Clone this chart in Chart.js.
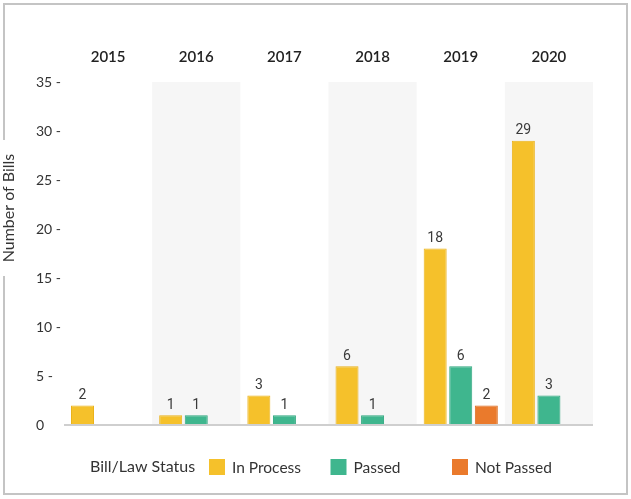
<!DOCTYPE html>
<html>
<head>
<meta charset="utf-8">
<script src="https://cdn.jsdelivr.net/npm/chart.js@4.4.1/dist/chart.umd.min.js"></script>
<style>
    html, body { margin: 0; padding: 0; background: #fff; }
    #wrap { width: 631px; height: 499px; position: relative; }
</style>
</head>
<body>
<div id="wrap"><canvas id="billsChart" width="631" height="499"></canvas></div>
<script>
const years = ['2015', '2016', '2017', '2018', '2019', '2020'];
const inProcess = [2, 1, 3, 6, 18, 29];
const passed = [null, 1, 1, 1, 6, 3];
const notPassed = [null, null, null, null, 2, null];
const yTicks = [0, 5, 10, 15, 20, 25, 30, 35];
const shadedYears = ['2016', '2018', '2020'];

const FONT = 'Lato, "Open Sans", sans-serif';

// light bands behind every other year
const bandPlugin = {
    id: 'bands',
    beforeDatasetsDraw(chart) {
        const ctx = chart.ctx;
        const x = chart.scales.x;
        const area = chart.chartArea;
        const w = x.getPixelForTick(1) - x.getPixelForTick(0);
        ctx.save();
        ctx.fillStyle = '#f6f6f6';
        shadedYears.forEach(yr => {
            const c = x.getPixelForValue(years.indexOf(yr));
            ctx.fillRect(c - w / 2, area.top, w, area.bottom - area.top - 1);
        });
        ctx.restore();
    }
};

// numbers on top of the bars
const valueLabels = {
    id: 'valueLabels',
    afterDatasetsDraw(chart) {
        const ctx = chart.ctx;
        ctx.save();
        ctx.font = '14px Roboto, sans-serif';
        ctx.fillStyle = '#3a3a3a';
        ctx.textAlign = 'center';
        ctx.textBaseline = 'bottom';
        chart.data.datasets.forEach((ds, i) => {
            chart.getDatasetMeta(i).data.forEach((bar, j) => {
                if (ds.data[j] == null) return;
                ctx.fillText(ds.data[j], bar.x, bar.y - 3);
            });
        });
        ctx.restore();
    }
};

// frame, y title and the legend row at the bottom
const frameAndLegend = {
    id: 'frameAndLegend',
    afterDraw(chart) {
        const ctx = chart.ctx;
        const W = chart.width, H = chart.height;
        ctx.save();
        ctx.strokeStyle = '#c4c4c4';
        ctx.lineWidth = 2;
        ctx.beginPath();
        ctx.moveTo(4, 140); ctx.lineTo(4, 4); ctx.lineTo(W - 4, 4);
        ctx.lineTo(W - 4, H - 5); ctx.lineTo(4, H - 5); ctx.lineTo(4, 276);
        ctx.stroke();

        // y axis title
        ctx.translate(9, 208);
        ctx.rotate(-Math.PI / 2);
        ctx.font = '16px ' + FONT;
        ctx.fillStyle = '#333';
        ctx.textAlign = 'center';
        ctx.textBaseline = 'middle';
        ctx.fillText('Number of Bills', 0, 0);
        ctx.setTransform(1, 0, 0, 1, 0, 0);

        // legend
        const y = 467;
        ctx.font = '16px ' + FONT;
        ctx.textAlign = 'left';
        ctx.textBaseline = 'middle';
        ctx.fillStyle = '#333';
        ctx.fillText('Bill/Law Status', 90, y);
        ctx.font = '15.5px ' + FONT;
        let x = 209;
        chart.data.datasets.forEach(ds => {
            ctx.fillStyle = ds.backgroundColor;
            ctx.fillRect(x, y - 8, 16, 16);
            ctx.fillStyle = '#333';
            ctx.fillText(ds.label, x + 23, y + 1);
            x += 121.5;
        });
        ctx.restore();
    }
};

const ctx = document.getElementById('billsChart').getContext('2d');
new Chart(ctx, {
    type: 'bar',
    data: {
        labels: years,
        datasets: [{
            label: 'In Process',
            data: inProcess,
            backgroundColor: '#f5c12b',
            borderColor: '#eab21a',
            borderWidth: 1
        }, {
            label: 'Passed',
            data: passed,
            backgroundColor: '#3fb68e',
            borderColor: '#2fa67e',
            borderWidth: 1
        }, {
            label: 'Not Passed',
            data: notPassed,
            backgroundColor: '#ea7a2c',
            borderColor: '#dc6a1c',
            borderWidth: 1
        }]
    },
    options: {
        responsive: false,
        animation: false,
        layout: { padding: { left: 36, right: 38, top: 32, bottom: 74 } },
        datasets: { bar: { barPercentage: 0.9, categoryPercentage: 0.87 } },
        scales: {
            x: {
                position: 'top',
                grid: { display: false, drawTicks: false },
                border: { display: false },
                ticks: { color: '#222', font: { family: FONT, size: 15, weight: '600' }, padding: 16 }
            },
            y: {
                min: 0,
                max: 35,
                afterFit: s => { s.width = 28; },
                afterBuildTicks: s => { s.ticks = yTicks.map(v => ({ value: v })); },
                grid: {
                    drawTicks: false,
                    lineWidth: 2,
                    color: c => c.tick && c.tick.value === 0 ? '#cfcfcf' : 'rgba(0,0,0,0)'
                },
                border: { display: false },
                ticks: {
                    crossAlign: 'far',
                    padding: 0,
                    color: '#333',
                    font: { family: FONT, size: 14 },
                    callback: v => v === 0 ? '0' : v + ' -'
                }
            }
        },
        plugins: {
            legend: { display: false },
            tooltip: { enabled: false }
        }
    },
    plugins: [bandPlugin, valueLabels, frameAndLegend]
});
</script>
</body>
</html>
